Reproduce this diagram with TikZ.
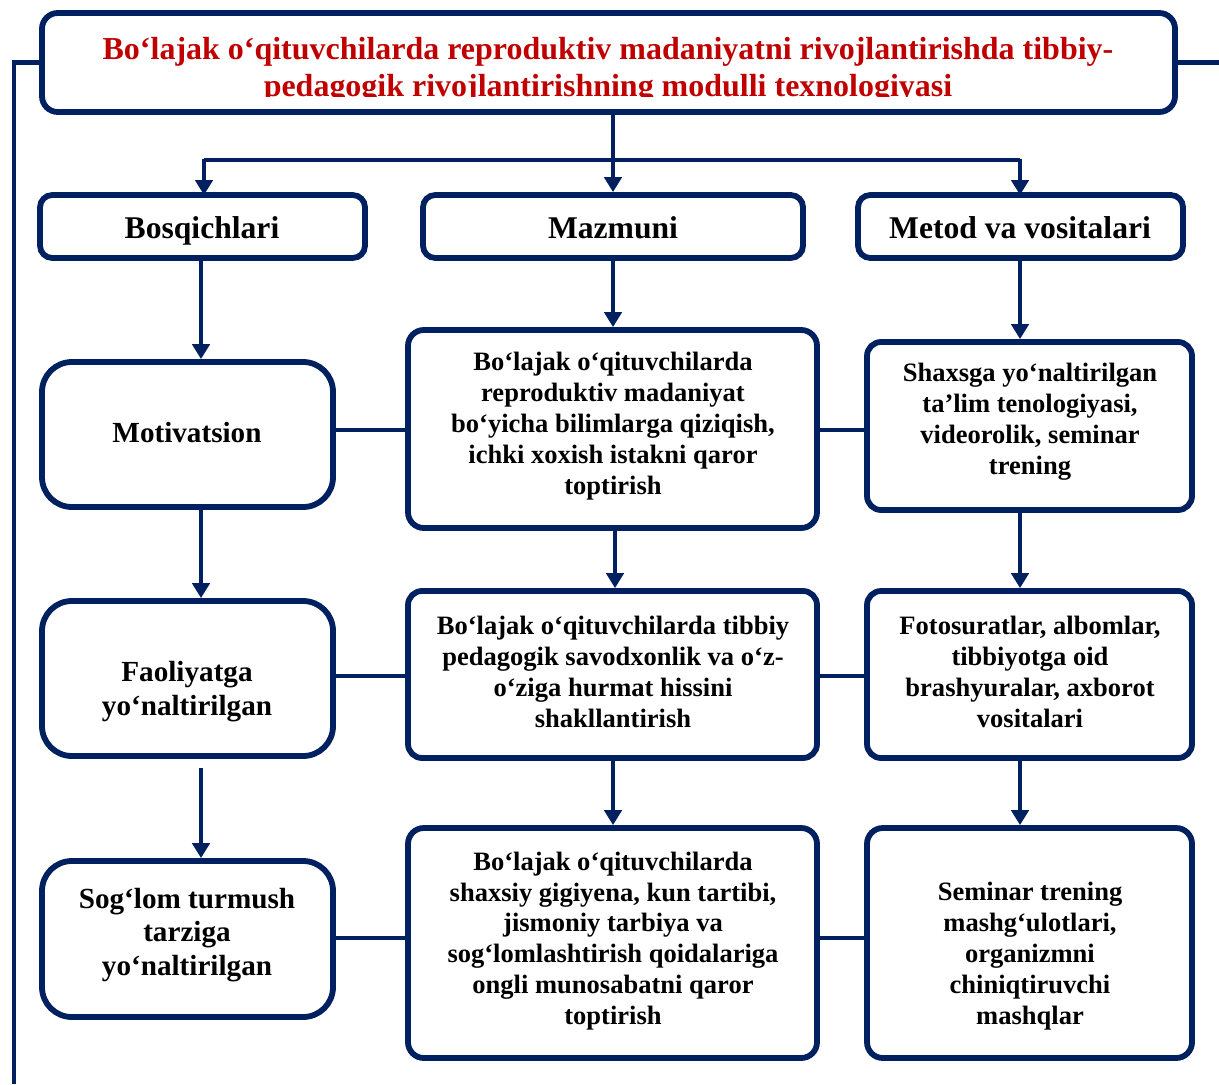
\documentclass[tikz,border=0pt]{standalone}
\usepackage{fontspec}
\setmainfont{Liberation Serif}
\usetikzlibrary{arrows.meta,fit}
\definecolor{navy}{HTML}{002060}
\definecolor{tred}{HTML}{C00000}
\begin{document}
\begin{tikzpicture}[x=0.02cm,y=-0.02cm,
  line width=2.8pt, navy,
  box/.style={draw=navy, line width=3.3pt, rounded corners=9pt, inner sep=0pt},
  leftbox/.style={box, rounded corners=17pt},
  headbox/.style={box, rounded corners=7pt},
  bodytext/.style={text=black, align=center, font=\bfseries\fontsize{15.1}{17.6}\selectfont},
  lefttext/.style={text=black, align=center, font=\bfseries\fontsize{16.6}{19.3}\selectfont},
  headtext/.style={text=black, align=center, font=\bfseries\fontsize{18}{21}\selectfont, text height=1.5ex, text depth=0.25ex},
  arr/.style={-{Triangle[length=8.5pt,width=9.8pt]}, line width=2.8pt, draw=navy},
  con/.style={line width=2.8pt, draw=navy}]
\useasboundingbox (0,0) rectangle (1219,1084);
% title
\node[box, rounded corners=9pt, fit={(42,13) (1175,112)}] (title) {};
\begin{scope}
\clip (50,20) rectangle (1170,97);
\node[text=tred, align=center, font=\bfseries\fontsize{18.2}{21}\selectfont, anchor=north] (ttext) at (608,29)
{Bo‘lajak o‘qituvchilarda reproduktiv madaniyatni rivojlantirishda tibbiy-\\pedagogik rivojlantirishning modulli texnologiyasi};
\end{scope}
% frame lines
\coordinate (lb) at (14,1084);
\coordinate (rb) at (1219,62.5);
\draw[con] (title.west) -| (lb);
\draw[con] (title.east) -- (rb);
% headers
\node[headbox, fit={(40,195) (365,258)}] (h1) {};
\node[headtext] at (202,233) {Bosqichlari};
\node[headbox, fit={(423,195) (803,258)}] (h2) {};
\node[headtext] at (613,233) {Mazmuni};
\node[headbox, fit={(858,195) (1183,258)}] (h3) {};
\node[headtext] at (1020,233) {Metod va vositalari};
% branch
\coordinate (bj) at (613,160);
\coordinate (h1t) at (204,195);
\coordinate (h3t) at (1020,195);
\draw[arr] (title.south -| bj) -- (h2.north -| bj);
\draw[con] (204,160) -- (1020,160);
\draw[arr] (204,158.6) -- (h1t);
\draw[arr] (1020,158.6) -- (h3t);
% row 2
\node[leftbox, fit={(42,362) (333,507)}] (l1) {};
\node[lefttext] at (187,433) {Motivatsion};
\node[box, rounded corners=9pt, fit={(408,330) (817,528)}] (m1) {};
\node[bodytext] at (613,426) {Bo‘lajak o‘qituvchilarda\\reproduktiv madaniyat\\bo‘yicha bilimlarga qiziqish,\\ichki xoxish istakni qaror\\toptirish};
\node[box, rounded corners=8pt, fit={(867,342) (1192,510)}] (r1) {};
\node[bodytext] at (1030,422) {Shaxsga yo‘naltirilgan\\ta’lim tenologiyasi,\\videorolik, seminar\\trening};
% row 3
\node[leftbox, fit={(42,601) (333,756)}] (l2) {};
\node[lefttext] at (187,692) {Faoliyatga\\yo‘naltirilgan};
\node[box, rounded corners=8pt, fit={(408,591) (817,758)}] (m2) {};
\node[bodytext] at (613,672) {Bo‘lajak o‘qituvchilarda tibbiy\\pedagogik savodxonlik va o‘z-\\o‘ziga hurmat hissini\\shakllantirish};
\node[box, rounded corners=8pt, fit={(867,591) (1192,758)}] (r2) {};
\node[bodytext] at (1030,672) {Fotosuratlar, albomlar,\\tibbiyotga oid\\brashyuralar, axborot\\vositalari};
% row 4
\node[leftbox, fit={(42,861) (333,1017)}] (l3) {};
\node[lefttext] at (187,935) {Sog‘lom turmush\\tarziga\\yo‘naltirilgan};
\node[box, rounded corners=9pt, fit={(408,828) (817,1058)}] (m3) {};
\node[bodytext] at (613,941) {Bo‘lajak o‘qituvchilarda\\shaxsiy gigiyena, kun tartibi,\\jismoniy tarbiya va\\sog‘lomlashtirish qoidalariga\\ongli munosabatni qaror\\toptirish};
\node[box, rounded corners=9pt, fit={(867,828) (1192,1058)}] (r3) {};
\node[bodytext] at (1030,956) {Seminar trening\\mashg‘ulotlari,\\organizmni\\chiniqtiruvchi\\mashqlar};
% vertical arrows
\coordinate (cl) at (201,0);
\coordinate (cm) at (613,0);
\coordinate (cm2) at (615,0);
\coordinate (cr) at (1020,0);
\draw[arr] (h1.south -| cl) -- (l1.north -| cl);
\draw[arr] (h2.south -| cm) -- (m1.north -| cm);
\draw[arr] (h3.south -| cr) -- (r1.north -| cr);
\draw[arr] (l1.south -| cl) -- (l2.north -| cl);
\draw[arr] (m1.south -| cm2) -- (m2.north -| cm2);
\draw[arr] (r1.south -| cr) -- (r2.north -| cr);
\coordinate (l3s) at (201,768);
\draw[arr] (l3s) -- (l3.north -| cl);
\draw[arr] (m2.south -| cm) -- (m3.north -| cm);
\draw[arr] (r2.south -| cr) -- (r3.north -| cr);
% horizontal links
\coordinate (y1) at (0,430);
\coordinate (y2) at (0,676);
\coordinate (y3) at (0,938);
\draw[con] (l1.east |- y1) -- (m1.west |- y1);
\draw[con] (m1.east |- y1) -- (r1.west |- y1);
\draw[con] (l2.east |- y2) -- (m2.west |- y2);
\draw[con] (m2.east |- y2) -- (r2.west |- y2);
\draw[con] (l3.east |- y3) -- (m3.west |- y3);
\draw[con] (m3.east |- y3) -- (r3.west |- y3);
\end{tikzpicture}
\end{document}
